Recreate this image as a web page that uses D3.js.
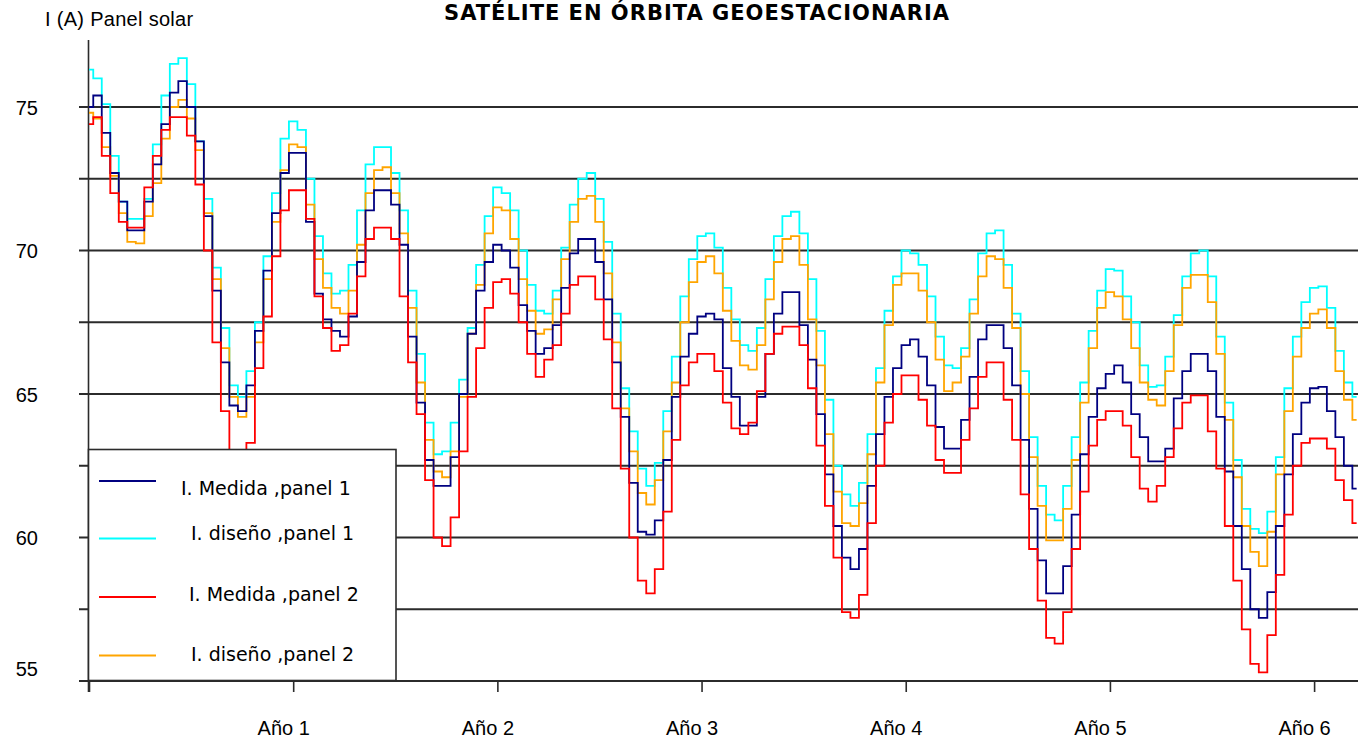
<!DOCTYPE html>
<html>
<head>
<meta charset="utf-8">
<script src="https://cdn.jsdelivr.net/npm/d3@7"></script>
<style>
  html, body { margin: 0; padding: 0; background: #ffffff; }
  svg { display: block; }
</style>
</head>
<body>
<svg id="chart" width="1358" height="741"></svg>
<script>
// ---- Data ---------------------------------------------------------------
const chartTitle = "SATÉLITE EN ÓRBITA GEOESTACIONARIA";
const yAxisTitle = "I (A) Panel solar";
const yTickValues = [55, 60, 65, 70, 75];
const yGridValues = [55, 57.5, 60, 62.5, 65, 67.5, 70, 72.5, 75];
const xTickValues = [0, 1, 2, 3, 4, 5, 6];
const xTickLabels = ["", "Año 1", "Año 2", "Año 3", "Año 4", "Año 5", "Año 6"];
const samplesPerYear = 24;   // readings taken every half month
const seriesNames = ["I. Medida ,panel 1", "I. diseño ,panel 1", "I. Medida ,panel 2", "I. diseño ,panel 2"];
const seriesColors = ["#000080", "#00ffff", "#ff0000", "#ffa500"];

// Current (A), one reading per half month, starting at launch
const medidaPanel1 = [
  75.0, 75.4, 74.1, 72.7, 71.7, 70.7, 70.7, 71.7, 73.0, 74.4, 75.5, 75.9, 75.0, 73.8, 71.2, 68.6, 66.1, 64.6, 64.4, 65.3, 67.2, 69.3, 71.3, 72.7,
  73.4, 73.4, 71.0, 68.5, 67.6, 67.2, 67.0, 67.7, 69.6, 71.4, 72.1, 72.1, 71.6, 70.2, 67.0, 64.7, 62.7, 61.8, 61.8, 62.8, 65.0, 67.1, 68.6, 69.6,
  70.2, 70.0, 69.4, 68.1, 67.2, 66.4, 66.6, 67.4, 68.7, 69.9, 70.4, 70.4, 69.6, 68.3, 66.1, 64.2, 61.9, 60.2, 60.1, 60.6, 62.7, 64.9, 66.3, 67.1,
  67.7, 67.8, 67.6, 65.9, 64.9, 63.9, 63.9, 64.9, 66.4, 67.8, 68.55, 68.55, 67.4, 66.2, 64.3, 62.2, 60.4, 59.3, 58.9, 59.6, 61.8, 63.6, 64.9, 65.9,
  66.7, 66.9, 66.3, 65.3, 63.85, 63.1, 63.1, 64.1, 65.6, 66.9, 67.4, 67.4, 66.6, 65.3, 63.4, 61.0, 59.2, 58.05, 58.05, 59.0, 60.8, 62.9, 64.2, 65.2,
  65.7, 66.0, 65.4, 64.3, 63.5, 62.65, 62.65, 63.1, 64.85, 65.8, 66.4, 66.4, 65.8, 64.2, 62.3, 60.4, 58.9, 57.5, 57.2, 58.1, 60.4, 62.2, 63.6, 64.7,
  65.2, 65.25, 64.4, 63.5, 62.5, 61.7
];
const disenoPanel1 = [
  76.3, 76.0, 75.1, 73.3, 71.7, 71.1, 71.1, 71.8, 73.7, 75.4, 76.5, 76.7, 75.8, 73.8, 71.8, 69.4, 67.3, 65.3, 64.9, 65.8, 67.5, 69.8, 72.0, 73.9,
  74.5, 74.2, 72.5, 70.5, 69.2, 68.5, 68.6, 69.5, 71.4, 73.0, 73.6, 73.6, 72.7, 71.4, 68.6, 66.4, 64.0, 62.9, 63.0, 64.0, 65.5, 67.3, 69.5, 71.2,
  72.2, 72.0, 71.4, 70.0, 68.8, 67.9, 67.8, 68.6, 70.1, 71.6, 72.5, 72.7, 71.8, 70.3, 67.8, 65.2, 63.7, 62.4, 61.8, 62.6, 64.4, 66.3, 68.4, 69.7,
  70.5, 70.6, 70.1, 68.7, 67.6, 66.7, 66.5, 67.3, 69.0, 70.5, 71.2, 71.35, 70.6, 69.0, 67.2, 64.8, 62.5, 61.5, 61.1, 61.9, 63.6, 65.9, 67.9, 69.1,
  70.0, 69.9, 69.5, 68.4, 67.0, 66.0, 65.9, 66.6, 68.3, 69.9, 70.6, 70.7, 69.5, 67.8, 65.8, 63.5, 61.8, 60.8, 60.6, 61.8, 63.5, 65.4, 67.2, 68.6,
  69.35, 69.3, 68.4, 67.5, 66.0, 65.25, 65.3, 66.3, 67.75, 69.1, 69.9, 70.0, 69.1, 67.0, 64.7, 62.7, 61.0, 60.3, 60.15, 60.9, 62.8, 65.2, 67.0, 68.2,
  68.7, 68.75, 68.0, 66.5, 65.4, 64.9
];
const medidaPanel2 = [
  74.4, 74.65, 73.3, 72.0, 71.0, 70.8, 70.8, 72.2, 73.3, 74.2, 74.65, 74.65, 74.0, 72.3, 70.0, 66.8, 64.4, 62.8, 62.3, 63.3, 65.9, 67.7, 69.8, 71.4,
  72.1, 72.1, 71.1, 68.4, 67.3, 66.5, 66.7, 67.8, 69.1, 70.4, 70.8, 70.8, 70.4, 68.4, 66.1, 64.3, 62.0, 60.0, 59.7, 60.7, 63.0, 64.9, 66.6, 68.0,
  68.9, 69.0, 68.5, 67.5, 66.4, 65.6, 66.2, 66.7, 67.8, 68.8, 69.1, 69.1, 68.3, 66.9, 64.5, 62.4, 60.0, 58.5, 58.05, 58.9, 60.9, 63.4, 65.3, 66.1,
  66.4, 66.4, 65.8, 64.7, 63.8, 63.6, 64.0, 65.1, 66.4, 67.1, 67.35, 67.35, 66.7, 65.2, 63.2, 61.1, 59.3, 57.4, 57.2, 58.0, 60.5, 62.5, 64.0, 65.0,
  65.65, 65.65, 64.8, 63.9, 62.7, 62.25, 62.25, 63.4, 64.5, 65.6, 66.1, 66.1, 64.8, 63.4, 61.5, 59.6, 57.8, 56.5, 56.3, 57.4, 59.6, 61.6, 63.2, 64.1,
  64.4, 64.4, 63.9, 62.8, 61.7, 61.25, 61.8, 62.8, 63.8, 64.7, 64.95, 64.95, 63.7, 62.4, 60.4, 58.5, 56.8, 55.6, 55.3, 56.6, 58.7, 60.8, 62.5, 63.3,
  63.45, 63.45, 63.1, 62.0, 61.3, 60.5
];
const disenoPanel2 = [
  74.8, 74.6, 73.6, 72.6, 71.3, 70.3, 70.25, 71.2, 72.35, 73.9, 75.0, 75.25, 74.6, 73.5, 71.3, 69.0, 66.6, 64.9, 64.2, 64.9, 66.8, 69.0, 71.0, 72.8,
  73.7, 73.6, 71.6, 69.7, 68.7, 68.0, 67.8, 68.6, 70.2, 72.0, 72.8, 72.9, 72.0, 70.6, 68.0, 65.4, 63.4, 62.3, 62.1, 63.0, 64.9, 67.1, 68.8, 70.6,
  71.5, 71.4, 70.4, 69.0, 67.9, 67.1, 67.25, 68.3, 69.7, 71.0, 71.8, 71.9, 71.0, 69.2, 66.8, 64.5, 63.0, 61.55, 61.15, 62.0, 63.7, 65.4, 67.5, 68.9,
  69.6, 69.8, 69.2, 67.9, 66.85, 66.0, 65.85, 66.7, 68.3, 69.6, 70.4, 70.5, 69.5, 67.6, 66.0, 63.6, 61.6, 60.5, 60.4, 61.2, 62.9, 65.4, 67.4, 68.8,
  69.2, 69.2, 68.6, 67.5, 66.2, 65.1, 65.4, 66.3, 67.8, 69.1, 69.8, 69.7, 68.7, 67.3, 65.0, 62.8, 61.1, 59.9, 59.9, 61.0, 62.7, 64.7, 66.6, 68.0,
  68.55, 68.4, 67.6, 66.6, 65.4, 64.8, 64.6, 65.8, 67.4, 68.7, 69.15, 69.15, 68.2, 66.4, 64.1, 62.1, 60.4, 59.5, 59.0, 60.2, 62.2, 64.4, 66.3, 67.3,
  67.8, 67.95, 67.3, 65.8, 64.8, 64.1
];

// ---- Layout -------------------------------------------------------------
const W = 1358, H = 741;
const plot = { left: 89, right: 1358, top: 107, bottom: 681 };
const svg = d3.select("#chart");

const x = d3.scaleLinear().domain([0, 6.215]).range([plot.left, plot.right]);
const y = d3.scaleLinear().domain([55, 75]).range([plot.bottom, plot.top]);

const axisColor = "#2b2b2b";
const labelFont = "'Liberation Sans', Arial, sans-serif";
const legendFont = "'DejaVu Sans', Verdana, sans-serif";

// Horizontal grid lines (they also run a little left of the axis, as ticks)
svg.append("g")
  .selectAll("line")
  .data(yGridValues)
  .join("line")
  .attr("x1", plot.left - 10)
  .attr("x2", plot.right)
  .attr("y1", d => y(d))
  .attr("y2", d => y(d))
  .attr("stroke", axisColor)
  .attr("stroke-width", 2);

// Vertical axis line
svg.append("line")
  .attr("x1", plot.left - 0.5).attr("x2", plot.left - 0.5)
  .attr("y1", 40).attr("y2", plot.bottom + 11)
  .attr("stroke", axisColor).attr("stroke-width", 1.6);

// X axis ticks and labels
const xAxis = d3.axisBottom(x)
  .tickValues(xTickValues)
  .tickSize(11)
  .tickFormat((d, i) => xTickLabels[i]);
const gx = svg.append("g")
  .attr("transform", `translate(0,${plot.bottom})`)
  .call(xAxis);
gx.select(".domain").remove();
gx.selectAll(".tick line").attr("stroke", axisColor).attr("stroke-width", 1.6);
gx.selectAll(".tick text")
  .attr("y", 54)
  .attr("dy", 0)
  .attr("dx", -10)
  .attr("fill", "#000")
  .style("font-family", labelFont)
  .style("font-size", "20px");

// Y axis labels
const yAxis = d3.axisLeft(y).tickValues(yTickValues).tickSize(0).tickFormat(d3.format("d"));
const gy = svg.append("g")
  .attr("transform", `translate(${plot.left},0)`)
  .call(yAxis);
gy.select(".domain").remove();
gy.selectAll(".tick text")
  .attr("x", -51)
  .attr("dy", d => d === 55 ? "-0.3em" : "0.35em")
  .attr("fill", "#000")
  .style("font-family", labelFont)
  .style("font-size", "20px");

// Axis title and chart title
svg.append("text")
  .attr("x", 45).attr("y", 26)
  .attr("fill", "#000")
  .style("font-family", labelFont)
  .style("font-size", "20px")
  .style("letter-spacing", "0.3px")
  .text(yAxisTitle);

svg.append("text")
  .attr("x", 697).attr("y", 19.5)
  .attr("text-anchor", "middle")
  .attr("fill", "#000")
  .style("font-family", legendFont)
  .style("font-weight", "bold")
  .style("font-size", "21px")
  .style("letter-spacing", "1px")
  .text(chartTitle);

// ---- Series -------------------------------------------------------------
svg.append("clipPath").attr("id", "plot-clip")
  .append("rect")
  .attr("x", plot.left).attr("y", 0)
  .attr("width", plot.right - plot.left).attr("height", H);

const seriesValues = [medidaPanel1, disenoPanel1, medidaPanel2, disenoPanel2];
const series = seriesNames.map((name, i) => ({
  name,
  color: seriesColors[i],
  points: seriesValues[i].map((v, k) => ({ t: k / samplesPerYear, v }))
}));

const line = d3.line()
  .x(d => x(d.t))
  .y(d => y(d.v))
  .curve(d3.curveStep);

// drawing order: design curves underneath, measured curves on top
const drawOrder = [1, 3, 0, 2];
svg.append("g")
  .attr("clip-path", "url(#plot-clip)")
  .selectAll("path")
  .data(drawOrder.map(i => series[i]))
  .join("path")
  .attr("d", d => line(d.points))
  .attr("fill", "none")
  .attr("stroke", d => d.color)
  .attr("stroke-width", 1.8)
  .attr("stroke-linejoin", "miter");

// ---- Legend -------------------------------------------------------------
const legend = svg.append("g");
legend.append("rect")
  .attr("x", 88.5).attr("y", 449.5)
  .attr("width", 307.5).attr("height", 231)
  .attr("fill", "#fff")
  .attr("stroke", axisColor)
  .attr("stroke-width", 1.6);

const legendRows = [
  { lineY: 481, textX: 181, textY: 495 },
  { lineY: 538.5, textX: 191, textY: 540 },
  { lineY: 597, textX: 189, textY: 601 },
  { lineY: 655.5, textX: 191, textY: 661 }
];
const rows = legend.selectAll("g.row")
  .data(series)
  .join("g")
  .attr("class", "row");
rows.append("line")
  .attr("x1", 99).attr("x2", 156)
  .attr("y1", (d, i) => legendRows[i].lineY)
  .attr("y2", (d, i) => legendRows[i].lineY)
  .attr("stroke", d => d.color)
  .attr("stroke-width", 2);
rows.append("text")
  .attr("x", (d, i) => legendRows[i].textX)
  .attr("y", (d, i) => legendRows[i].textY)
  .attr("fill", "#000")
  .style("font-family", legendFont)
  .style("font-size", "19px")
  .text(d => d.name);
</script>
</body>
</html>
